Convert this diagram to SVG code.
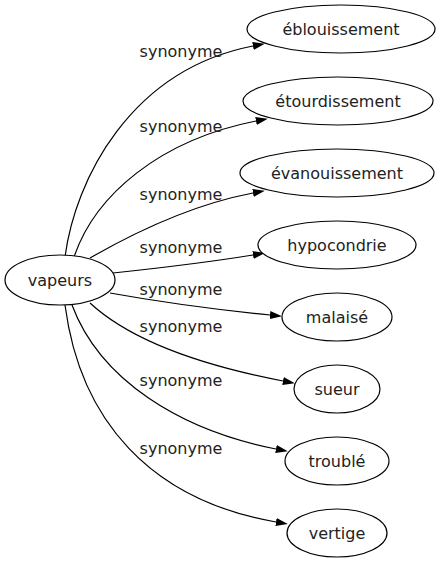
<svg xmlns="http://www.w3.org/2000/svg" width="441" height="563" viewBox="0 0 441 563">
<style>
text{font-family:"DejaVu Sans","Liberation Sans",sans-serif;font-size:16px;fill:#222;text-anchor:middle}
ellipse{fill:#fff;stroke:#000;stroke-width:1.2}
.e path{fill:none;stroke:#000;stroke-width:1.2}
</style>
<defs>
<marker id="a" markerUnits="userSpaceOnUse" markerWidth="12" markerHeight="8" refX="0" refY="4" orient="auto">
<path d="M0,0 L12,4 L0,8 z" fill="#000"/>
</marker>
</defs>
<rect width="441" height="563" fill="#fff"/>
<g class="e" id="edges">
<path d="M65,257 C75,180 130,70 253,46" marker-end="url(#a)"/>
<path d="M74,257 C95,195 160,140 256,121" marker-end="url(#a)"/>
<path d="M90,258 C130,235 190,205 253,193" marker-end="url(#a)"/>
<path d="M113,273 C160,268 210,262 253,255" marker-end="url(#a)"/>
<path d="M110,293 C160,302 220,310 270,315" marker-end="url(#a)"/>
<path d="M90,303 C130,340 200,365 283,381" marker-end="url(#a)"/>
<path d="M72,305 C100,380 180,430 276,449" marker-end="url(#a)"/>
<path d="M65,305 C80,420 150,500 276,522" marker-end="url(#a)"/>
<text x="181" y="57">synonyme</text>
<text x="181" y="132">synonyme</text>
<text x="181" y="200">synonyme</text>
<text x="181" y="253">synonyme</text>
<text x="181" y="295">synonyme</text>
<text x="181" y="332">synonyme</text>
<text x="181" y="386">synonyme</text>
<text x="181" y="454">synonyme</text>
</g>
<g id="vapeurs"><ellipse cx="60" cy="280" rx="55" ry="25"/><text x="60" y="286">vapeurs</text></g>
<g id="eblouissement"><ellipse cx="341" cy="29" rx="94" ry="24"/><text x="341" y="35">éblouissement</text></g>
<g id="etourdissement"><ellipse cx="338" cy="101" rx="95" ry="24"/><text x="338" y="107">étourdissement</text></g>
<g id="evanouissement"><ellipse cx="337" cy="173" rx="97" ry="24"/><text x="337" y="179">évanouissement</text></g>
<g id="hypocondrie"><ellipse cx="337" cy="245" rx="79" ry="24"/><text x="337" y="251">hypocondrie</text></g>
<g id="malaise"><ellipse cx="337" cy="317" rx="55" ry="24"/><text x="337" y="323">malaisé</text></g>
<g id="sueur"><ellipse cx="337" cy="389" rx="43" ry="24"/><text x="337" y="395">sueur</text></g>
<g id="trouble"><ellipse cx="337" cy="461" rx="52" ry="24"/><text x="337" y="467">troublé</text></g>
<g id="vertige"><ellipse cx="337" cy="533" rx="50" ry="24"/><text x="337" y="539">vertige</text></g>
</svg>
